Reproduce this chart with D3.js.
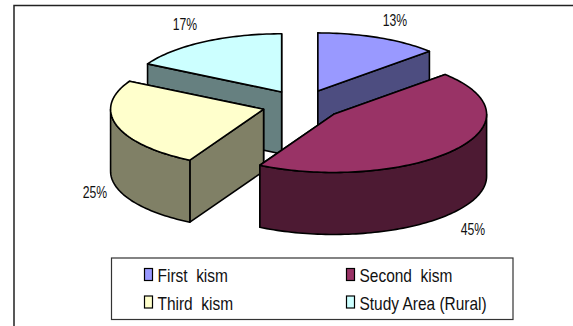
<!DOCTYPE html>
<html lang="en">
<head>
  <meta charset="UTF-8">
  <title>Kism shares</title>
  <script src="https://d3js.org/d3.v7.min.js"></script>
  <style>
    html, body { margin: 0; background: #fff; }
    svg { display: block; }
    text { font-family: "Liberation Sans", Arial, sans-serif; fill: #111; }
    .edge { stroke: #000; stroke-width: 1.6px; stroke-linejoin: round; }
  </style>
</head>
<body>
  <svg></svg>
  <script>
    const categories = ['First  kism', 'Second  kism', 'Third  kism', 'Study Area (Rural)']
    const values = [13, 45, 25, 17]
    const topColors = ['#9999ff', '#993366', '#ffffcc', '#ccffff']
    const wallColors = ['#4d4d80', '#4d1a33', '#808066', '#668080']
    const labelPos = [[395, 26], [473, 235], [95, 198], [185, 30]]

    const WIDTH = 573
    const HEIGHT = 326
    const cx = 302
    const cy = 105
    const radius = 153
    const squash = 0.38
    const explode = 40
    const depth = 62

    const svg = d3.select('svg')
      .attr('width', WIDTH)
      .attr('height', HEIGHT)

    // chart frame: top and left rules only run inside the window
    svg.append('path')
      .attr('d', 'M14,326V5.5H573')
      .attr('fill', 'none')
      .attr('stroke', '#222')
      .attr('stroke-width', 1.5)

    const pie = d3.pie().sort(null).startAngle(0).endAngle(2 * Math.PI)
    const line = d3.line()

    // project a pie angle onto the tilted disc of a slice
    function project (s, a, r = radius) {
      return [s.x + r * Math.sin(a), s.y - r * squash * Math.cos(a)]
    }

    function arcPoints (s, a0, a1) {
      const n = Math.max(2, Math.ceil((a1 - a0) * 40))
      return d3.range(n + 1).map((i) => project(s, a0 + (a1 - a0) * i / n))
    }

    const down = (p) => [p[0], p[1] + depth]

    const slices = pie(values).map((d) => {
      const mid = (d.startAngle + d.endAngle) / 2
      return {
        ...d,
        x: cx + explode * Math.sin(mid),
        y: cy - explode * squash * Math.cos(mid)
      }
    }).sort((a, b) => d3.ascending(a.y, b.y))

    slices.forEach((s) => {
      const g = svg.append('g').attr('class', 'edge')
      const apex = [s.x, s.y]

      // radial walls, the one further back first
      const faces = [s.startAngle, s.endAngle]
        .map((a) => project(s, a))
        .sort((p, q) => d3.ascending(p[1], q[1]))
      faces.forEach((p) => {
        g.append('path')
          .attr('d', line([apex, p, down(p), down(apex)]) + 'Z')
          .attr('fill', wallColors[s.index])
      })

      // curved wall, only the front half of the rim shows
      const a0 = Math.max(s.startAngle, Math.PI / 2)
      const a1 = Math.min(s.endAngle, 3 * Math.PI / 2)
      if (a1 > a0) {
        const rim = arcPoints(s, a0, a1)
        g.append('path')
          .attr('d', line(rim.concat(rim.map(down).reverse())) + 'Z')
          .attr('fill', wallColors[s.index])
      }

      g.append('path')
        .attr('d', line([apex, ...arcPoints(s, s.startAngle, s.endAngle)]) + 'Z')
        .attr('fill', topColors[s.index])
    })

    // glyphs are narrow here, so squeeze them horizontally
    function narrowText (sel, x, y, size, sx, anchor) {
      return sel.append('text')
        .attr('transform', `translate(${x},${y}) scale(${sx},1)`)
        .attr('font-size', size)
        .attr('text-anchor', anchor)
        .style('white-space', 'pre')
    }

    values.forEach((v, i) => {
      narrowText(svg, labelPos[i][0], labelPos[i][1], 16.5, 0.74, 'middle').text(v + '%')
    })

    // legend
    const legend = svg.append('g')
    legend.append('rect')
      .attr('x', 111.5)
      .attr('y', 258)
      .attr('width', 401.5)
      .attr('height', 61.5)
      .attr('fill', '#fff')
      .attr('stroke', '#333')
      .attr('stroke-width', 1.2)

    const legendX = d3.scaleOrdinal().domain([0, 1]).range([144.5, 346.5])
    const legendY = d3.scaleOrdinal().domain([0, 1]).range([268.5, 296])

    categories.forEach((c, i) => {
      const x = legendX(i % 2)
      const y = legendY(Math.floor(i / 2))
      legend.append('rect')
        .attr('x', x)
        .attr('y', y)
        .attr('width', 8)
        .attr('height', 12)
        .attr('fill', topColors[i])
        .attr('stroke', '#000')
        .attr('stroke-width', 1.2)
      narrowText(legend, x + 13, y + 13.5, 18, 0.86, 'start').text(c)
    })
  </script>
</body>
</html>
